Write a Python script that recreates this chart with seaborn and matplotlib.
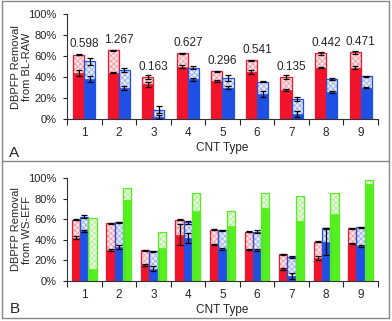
import numpy as np
import pandas as pd
import matplotlib
matplotlib.use("Agg")
import matplotlib.pyplot as plt
from matplotlib.patches import Rectangle
from matplotlib.lines import Line2D
from matplotlib.ticker import PercentFormatter, FixedLocator
import seaborn as sns

# ---------------- data ----------------
cnt = ["1", "2", "3", "4", "5", "6", "7", "8", "9"]
ratio_labels = ["0.598", "1.267", "0.163", "0.627", "0.296", "0.541", "0.135", "0.442", "0.471"]

# panel A (BL-RAW): solid part and total (solid + hatched) per series, in %
a_red_solid = [44, 44, 33, 50, 36, 45, 28, 49, 49]
a_red_total = [61.5, 65.5, 40, 62.5, 45.5, 56, 40, 62.5, 63.5]
a_blue_solid = [38, 30, 2, 38, 30, 24, 5, 26, 30]
a_blue_total = [55, 47, 9, 49, 39, 35.5, 19, 38, 41]
a_red_solid_err = [2.5, 0.5, 2, 1.5, 1, 2, 1, 0.5, 1.5]
a_red_total_err = [0.5, 0.5, 2, 0.5, 0.3, 0.5, 2, 1.5, 1.5]
a_blue_solid_err = [3, 2, 2, 1.5, 1.5, 3, 3, 1, 0.5]
a_blue_total_err = [3, 2, 3, 1.5, 3, 0.5, 2, 1, 0.5]

# panel B (WS-EFF)
b_red_solid = [42, 30, 15, 45, 35, 31, 12, 22, 36]
b_red_total = [59.5, 56, 30, 59.5, 50, 48, 26, 38, 51]
b_blue_solid = [49, 33, 12, 42, 31, 30, 5, 38, 34]
b_blue_total = [62.5, 57, 29, 57, 49.5, 48, 23, 51, 52]
b_green_solid = [12, 79, 32, 68, 53, 71, 58, 65, 94]
b_green_total = [61, 90, 48, 86, 68, 86, 83, 86, 98]
b_red_solid_err = [1.5, 1, 1, 10, 0.5, 0.5, 1, 2, 0.5]
b_red_total_err = [0.5, 0.5, 0.5, 0.5, 0.5, 0.5, 0.5, 0.5, 0.5]
b_blue_solid_err = [1, 2, 2, 5, 1, 1, 3, 13, 1]
b_blue_total_err = [1.5, 0.5, 0.5, 1.5, 0.5, 1.5, 1, 0.5, 0.5]

RED, BLUE, GREEN = "#f2142b", "#1f50e6", "#55ee1e"
LIGHT = {RED: "#f59aa3", BLUE: "#9bb0f2", GREEN: "#aef090"}
TINT = {RED: "#fde6e8", BLUE: "#e6ecfc", GREEN: "#ecfce4"}

sns.set_theme(style="white")
plt.rcParams["font.family"] = ["Liberation Sans", "DejaVu Sans"]
plt.rcParams["hatch.linewidth"] = 0.6


def long_table(series):
    rows = []
    for name, solid, total, serr, terr in series:
        for i, c in enumerate(cnt):
            rows.append(dict(cnt=c, series=name, solid=solid[i], total=total[i],
                             serr=serr[i] if serr else np.nan,
                             terr=terr[i] if terr else np.nan))
    return pd.DataFrame(rows)


def stacked_panel(ax, df, colors, width):
    names = list(df["series"].unique())
    pal = dict(zip(names, colors))
    sns.barplot(data=df, x="cnt", y="total", hue="series", order=cnt,
                hue_order=names, palette=pal, width=width, legend=False,
                saturation=1, ax=ax, errorbar=None)
    sns.barplot(data=df, x="cnt", y="solid", hue="series", order=cnt,
                hue_order=names, palette=pal, width=width, legend=False,
                saturation=1, ax=ax, errorbar=None)
    n = len(names)
    for k, name in enumerate(names):
        col = colors[k]
        sub = df[df["series"] == name].set_index("cnt").loc[cnt]
        top = sorted(ax.containers[k].patches, key=lambda p: p.get_x())
        low = sorted(ax.containers[n + k].patches, key=lambda p: p.get_x())
        for p in top:
            p.set_facecolor(TINT[col])
            p.set_edgecolor(LIGHT[col])
            p.set_hatch("xxxxxx")
            p.set_linewidth(0)
            ax.add_patch(Rectangle((p.get_x(), p.get_y()), p.get_width(),
                                   p.get_height(), fill=False, edgecolor=col,
                                   lw=0.9, zorder=p.get_zorder() + 0.1))
        for p in low:
            p.set_edgecolor(col)
            p.set_linewidth(0.5)
        xs = [p.get_x() + p.get_width() / 2 for p in top]
        if sub["serr"].notna().all():
            ax.errorbar(xs, sub["solid"], yerr=sub["serr"], fmt="none",
                        ecolor="black", elinewidth=0.9, capsize=2, capthick=0.9, zorder=5)
            ax.errorbar(xs, sub["total"], yerr=sub["terr"], fmt="none",
                        ecolor="black", elinewidth=0.9, capsize=2, capthick=0.9, zorder=5)


def style_axes(ax, ylabel):
    ax.set_ylim(0, 100)
    ax.set_xlim(-0.5, len(cnt) - 0.5)
    ax.yaxis.set_major_locator(FixedLocator([0, 20, 40, 60, 80, 100]))
    ax.yaxis.set_major_formatter(PercentFormatter(decimals=0))
    ax.xaxis.set_minor_locator(FixedLocator(np.arange(len(cnt) + 1) - 0.5))
    ax.tick_params(axis="x", which="major", length=0, labelsize=8.5, pad=6)
    ax.tick_params(axis="x", which="minor", length=4, width=0.8, direction="out", bottom=True)
    ax.tick_params(axis="y", length=3, width=0.8, direction="out", left=True, labelsize=8, pad=4.5)
    for s in ["top", "right"]:
        ax.spines[s].set_visible(False)
    for s in ["left", "bottom"]:
        ax.spines[s].set_color("#333333")
        ax.spines[s].set_linewidth(0.8)
    ax.set_xlabel("CNT Type", fontsize=8.5, labelpad=2)
    ax.set_ylabel(ylabel, fontsize=8, linespacing=1.1)
    ax.yaxis.set_label_coords(-0.113, 0.5)


fig = plt.figure(figsize=(3.92, 3.21), dpi=100)
ax_a = fig.add_axes([0.171, 0.629, 0.793, 0.327])
ax_b = fig.add_axes([0.171, 0.125, 0.793, 0.320])

df_a = long_table([
    ("red", a_red_solid, a_red_total, a_red_solid_err, a_red_total_err),
    ("blue", a_blue_solid, a_blue_total, a_blue_solid_err, a_blue_total_err),
])
stacked_panel(ax_a, df_a, [RED, BLUE], 0.64)
style_axes(ax_a, "DBPFP Removal\nfrom BL-RAW")
for i, lab in enumerate(ratio_labels):
    ax_a.text(i, max(a_red_total[i], a_blue_total[i]) + 4, lab, ha="center",
              va="bottom", fontsize=8.5)

df_b = long_table([
    ("red", b_red_solid, b_red_total, b_red_solid_err, b_red_total_err),
    ("blue", b_blue_solid, b_blue_total, b_blue_solid_err, b_blue_total_err),
    ("green", b_green_solid, b_green_total, None, None),
])
stacked_panel(ax_b, df_b, [RED, BLUE, GREEN], 0.72)
style_axes(ax_b, "DBPFP Removal\nfrom WS-EFF")

# outer frame with a divider between the two panels
fig.patches.append(Rectangle((0.005, 0.008), 0.988, 0.988, transform=fig.transFigure,
                             fill=False, edgecolor="#888888", lw=1))
fig.lines.append(Line2D([0.005, 0.993], [0.498, 0.498], transform=fig.transFigure,
                        color="#888888", lw=1))
fig.text(0.024, 0.511, "A", fontsize=11, va="baseline")
fig.text(0.024, 0.025, "B", fontsize=11, va="baseline")

fig.savefig("out.png", dpi=100)
